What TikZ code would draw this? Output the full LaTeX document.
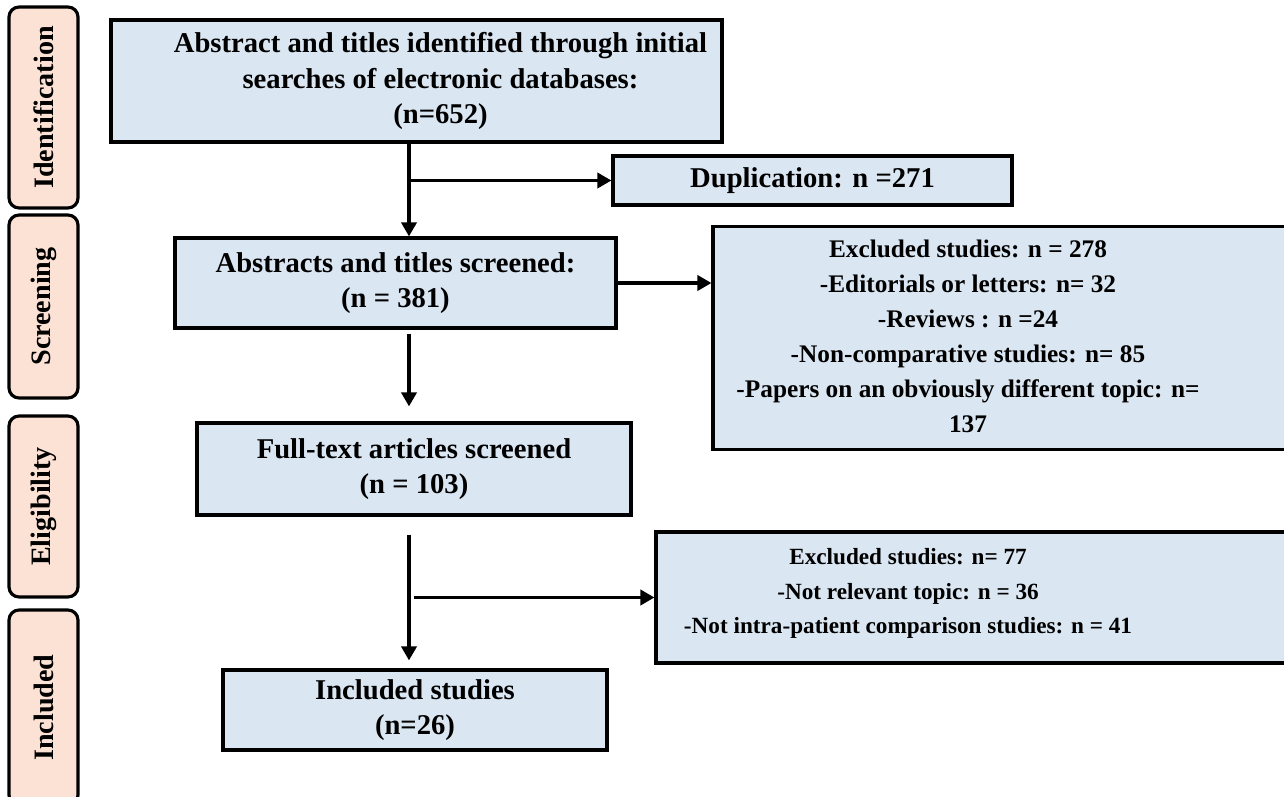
\documentclass[tikz,border=0pt]{standalone}
\usepackage{fontspec}
\setmainfont{Liberation Serif}
\usetikzlibrary{arrows.meta,positioning,calc}
\definecolor{boxblue}{HTML}{DAE6F2}
\definecolor{stagepeach}{HTML}{FBE2D5}
\tikzset{
  stage/.style={draw, rounded corners=0.2cm, rotate=90, fill=stagepeach, line width=1.8pt, minimum height=1.38cm, font=\fontsize{16}{19}\selectfont\bfseries},
  flowbox/.style={draw, rectangle, fill=boxblue, line width=1.8pt, align=center, font=\fontsize{16.3}{20}\selectfont\bfseries},
  sidebox/.style={draw, rectangle, fill=boxblue, line width=1.8pt, font=\fontsize{14.4}{20}\selectfont\bfseries},
  arrow/.style={-{Triangle[length=0.28cm, width=0.3cm]}, line width=2.2pt}
}

\begin{document}
\begin{tikzpicture}[x=0.02cm, y=-0.02cm]
  \useasboundingbox (0,0) rectangle (1284,797);

  % stages
  \node[stage, minimum width=4.02cm] (ident) at (43.5,107.5) {Identification};
  \node[stage, minimum width=3.66cm] (screen) at (43.5,306.5) {Screening};
  \node[stage, minimum width=3.62cm] (elig) at (43.5,506.5) {Eligibility};
  \node[stage, minimum width=3.9cm] (incl) at (43.5,707.5) {Included};

  % flow
  \node[sidebox, minimum width=12.22cm, minimum height=2.44cm, font=\fontsize{16.3}{20}\selectfont\bfseries] (search) at (416.5,81)
    {\hspace*{0.96cm}\begin{tabular}{@{}c@{}}Abstract and titles identified through initial\\ searches of electronic databases:\\ (n=652)\end{tabular}};
  \node[flowbox, minimum width=7.98cm, minimum height=0.98cm] (dup) at (812.5,180.5)
    {Duplication: n =271};
  \node[flowbox, minimum width=8.82cm, minimum height=1.8cm] (screened) at (395.5,283)
    {Abstracts and titles screened:\\ (n = 381)};
  \node[sidebox, minimum width=11.74cm, minimum height=4.36cm] (excl1) at (1006.5,338)
    {\begin{tabular}{@{}c@{}}Excluded studies: n = 278\\ -Editorials or letters: n= 32\\ -Reviews : n =24\\ -Non-comparative studies: n= 85\\ -Papers on an obviously different topic: n=\\ 137\end{tabular}\hspace*{1.54cm}};
  \node[flowbox, minimum width=8.68cm, minimum height=1.84cm] (fulltext) at (414,469)
    {Full-text articles screened\\ (n = 103)};
  \node[sidebox, minimum width=12.88cm, minimum height=2.62cm, font=\fontsize{13.2}{19.6}\selectfont\bfseries] (excl2) at (978,597.5)
    {\begin{tabular}{@{}c@{}}Excluded studies: n= 77\\ -Not relevant topic: n = 36\\ -Not intra-patient comparison studies: n = 41\\[6pt]\end{tabular}\hspace*{2.8cm}};
  \node[flowbox, minimum width=7.68cm, minimum height=1.6cm] (included) at (415,710)
    {Included studies\\ (n=26)};

  \coordinate (spine) at (409,0);

  \draw[arrow] (search.south -| spine) -- (screened.north -| spine);
  \draw[arrow] (dup.west -| spine) -- (dup.west);
  \draw[arrow] (screened.east) -- (screened.east -| excl1.west);
  \draw[arrow, shorten <=0.08cm, shorten >=0.3cm] (screened.south -| spine) -- (fulltext.north -| spine);
  \draw[arrow, shorten <=0.36cm, shorten >=0.16cm] (fulltext.south -| spine) -- (included.north -| spine);
  \draw[arrow, shorten <=0.1cm] (excl2.west -| spine) -- (excl2.west);
\end{tikzpicture}
\end{document}
